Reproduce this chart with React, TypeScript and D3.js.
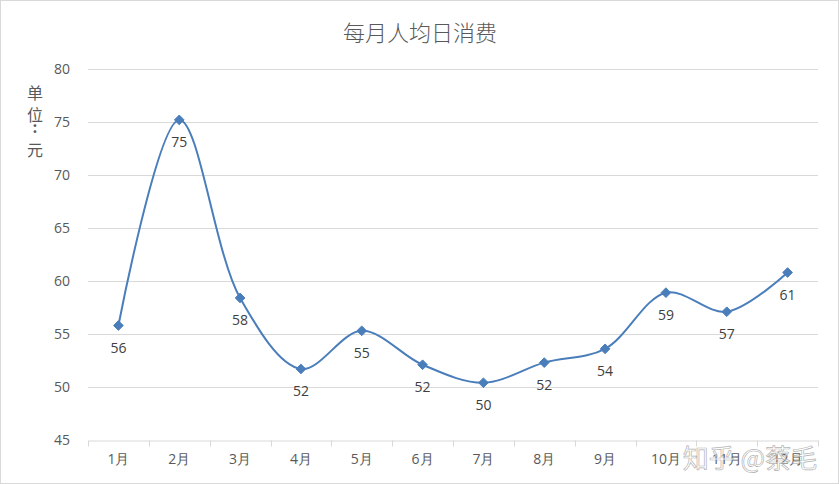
import React, { useEffect, useRef } from "react";
import * as d3 from "d3";

const months = ["1月", "2月", "3月", "4月", "5月", "6月", "7月", "8月", "9月", "10月", "11月", "12月"];
const spending = [55.8, 75.2, 58.4, 51.7, 55.3, 52.1, 50.4, 52.3, 53.6, 58.9, 57.1, 60.8];
const yTicks = [45, 50, 55, 60, 65, 70, 75, 80];
const unitLabel = ["单", "位", ":", "元"];

const W = 839;
const H = 484;
const latin = "'Open Sans', 'Noto Sans', sans-serif";
const cjk = "'Noto Sans CJK SC', sans-serif";

function App() {
  const svgRef = useRef<SVGSVGElement>(null);

  useEffect(() => {
    const svg = d3.select(svgRef.current);
    svg.selectAll("*").remove();

    const left = 88, right = 818, top = 69, bottom = 440;

    const x = d3.scaleBand<string>().domain(months).range([left, right]);
    const y = d3.scaleLinear().domain([45, 80]).range([bottom, top]);

    svg.append("rect")
      .attr("x", 0.5).attr("y", 0.5)
      .attr("width", W - 1).attr("height", H - 1)
      .attr("fill", "#fff").attr("stroke", "#d9d9d9");

    // title
    svg.append("text")
      .attr("x", 420).attr("y", 41)
      .attr("text-anchor", "middle")
      .attr("font-family", cjk)
      .attr("font-size", 22)
      .attr("font-weight", 300)
      .attr("fill", "#595959")
      .text("每月人均日消费");

    // grid lines
    svg.append("g")
      .selectAll("line")
      .data(yTicks.filter(t => t !== 45))
      .join("line")
      .attr("x1", left).attr("x2", right)
      .attr("y1", d => Math.round(y(d)) + 0.5)
      .attr("y2", d => Math.round(y(d)) + 0.5)
      .attr("stroke", "#d9d9d9");

    // y labels
    svg.append("g")
      .selectAll("text")
      .data(yTicks)
      .join("text")
      .attr("x", 70)
      .attr("y", d => y(d) + 5)
      .attr("text-anchor", "end")
      .attr("font-family", latin)
      .attr("font-size", 14)
      .attr("fill", "#595959")
      .text(d => d);

    // unit label, stacked vertically
    const unitY = [99, 121, 133, 156];
    svg.append("g")
      .selectAll("text")
      .data(unitLabel)
      .join("text")
      .attr("x", 35)
      .attr("y", (d, i) => unitY[i])
      .attr("text-anchor", "middle")
      .attr("font-family", cjk)
      .attr("font-size", (d, i) => (i === 2 ? 15 : 16))
      .attr("font-weight", (d, i) => (i === 2 ? 700 : 400))
      .attr("fill", "#595959")
      .text(d => d);

    // x axis
    const xAxis = d3.axisBottom(x).tickSize(0).tickPadding(14);
    const gx = svg.append("g")
      .attr("transform", `translate(0, ${Math.round(bottom) + 0.5})`)
      .call(xAxis);
    gx.select(".domain").attr("stroke", "#d9d9d9");
    gx.selectAll("text")
      .attr("font-family", latin)
      .attr("font-size", 14)
      .attr("fill", "#595959");
    gx.selectAll(".sep")
      .data([...months.map(m => x(m)!), right])
      .join("line")
      .attr("class", "sep")
      .attr("x1", d => Math.round(d) + 0.5).attr("x2", d => Math.round(d) + 0.5)
      .attr("y1", 0).attr("y2", 6)
      .attr("stroke", "#d9d9d9");

    const cx = (m: string) => x(m)! + x.bandwidth() / 2;

    // line
    const line = d3.line<number>()
      .x((d, i) => cx(months[i]))
      .y(d => y(d))
      .curve(d3.curveCatmullRom.alpha(0.5));

    svg.append("path")
      .datum(spending)
      .attr("d", line)
      .attr("fill", "none")
      .attr("stroke", "#4a7ebb")
      .attr("stroke-width", 2);

    // diamond markers
    const diamond = d3.symbol().type(d3.symbolDiamond2).size(60);
    svg.append("g")
      .selectAll("path")
      .data(spending)
      .join("path")
      .attr("d", diamond)
      .attr("transform", (d, i) => `translate(${cx(months[i])}, ${y(d)})`)
      .attr("fill", "#4a7ebb")
      .attr("stroke", "#4a7ebb");

    // data labels
    svg.append("g")
      .selectAll("text")
      .data(spending)
      .join("text")
      .attr("x", (d, i) => cx(months[i]))
      .attr("y", d => y(d) + 27)
      .attr("text-anchor", "middle")
      .attr("font-family", latin)
      .attr("font-size", 14)
      .attr("fill", "#404040")
      .text(d => Math.round(d));

    // watermark
    svg.append("text")
      .attr("x", 750).attr("y", 468)
      .attr("text-anchor", "middle")
      .attr("font-family", cjk)
      .attr("font-size", 26)
      .attr("fill", "#ffffff")
      .attr("fill-opacity", 0.55)
      .attr("stroke", "#a0a0a0")
      .attr("stroke-width", 0.7)
      .attr("stroke-opacity", 0.8)
      .text("知乎 @蔡毛");
  }, []);

  return (
    <div style={{ position: "fixed", left: 0, top: 0 }}>
      <svg ref={svgRef} width={W} height={H} style={{ display: "block" }}></svg>
    </div>
  );
}

export default App;
